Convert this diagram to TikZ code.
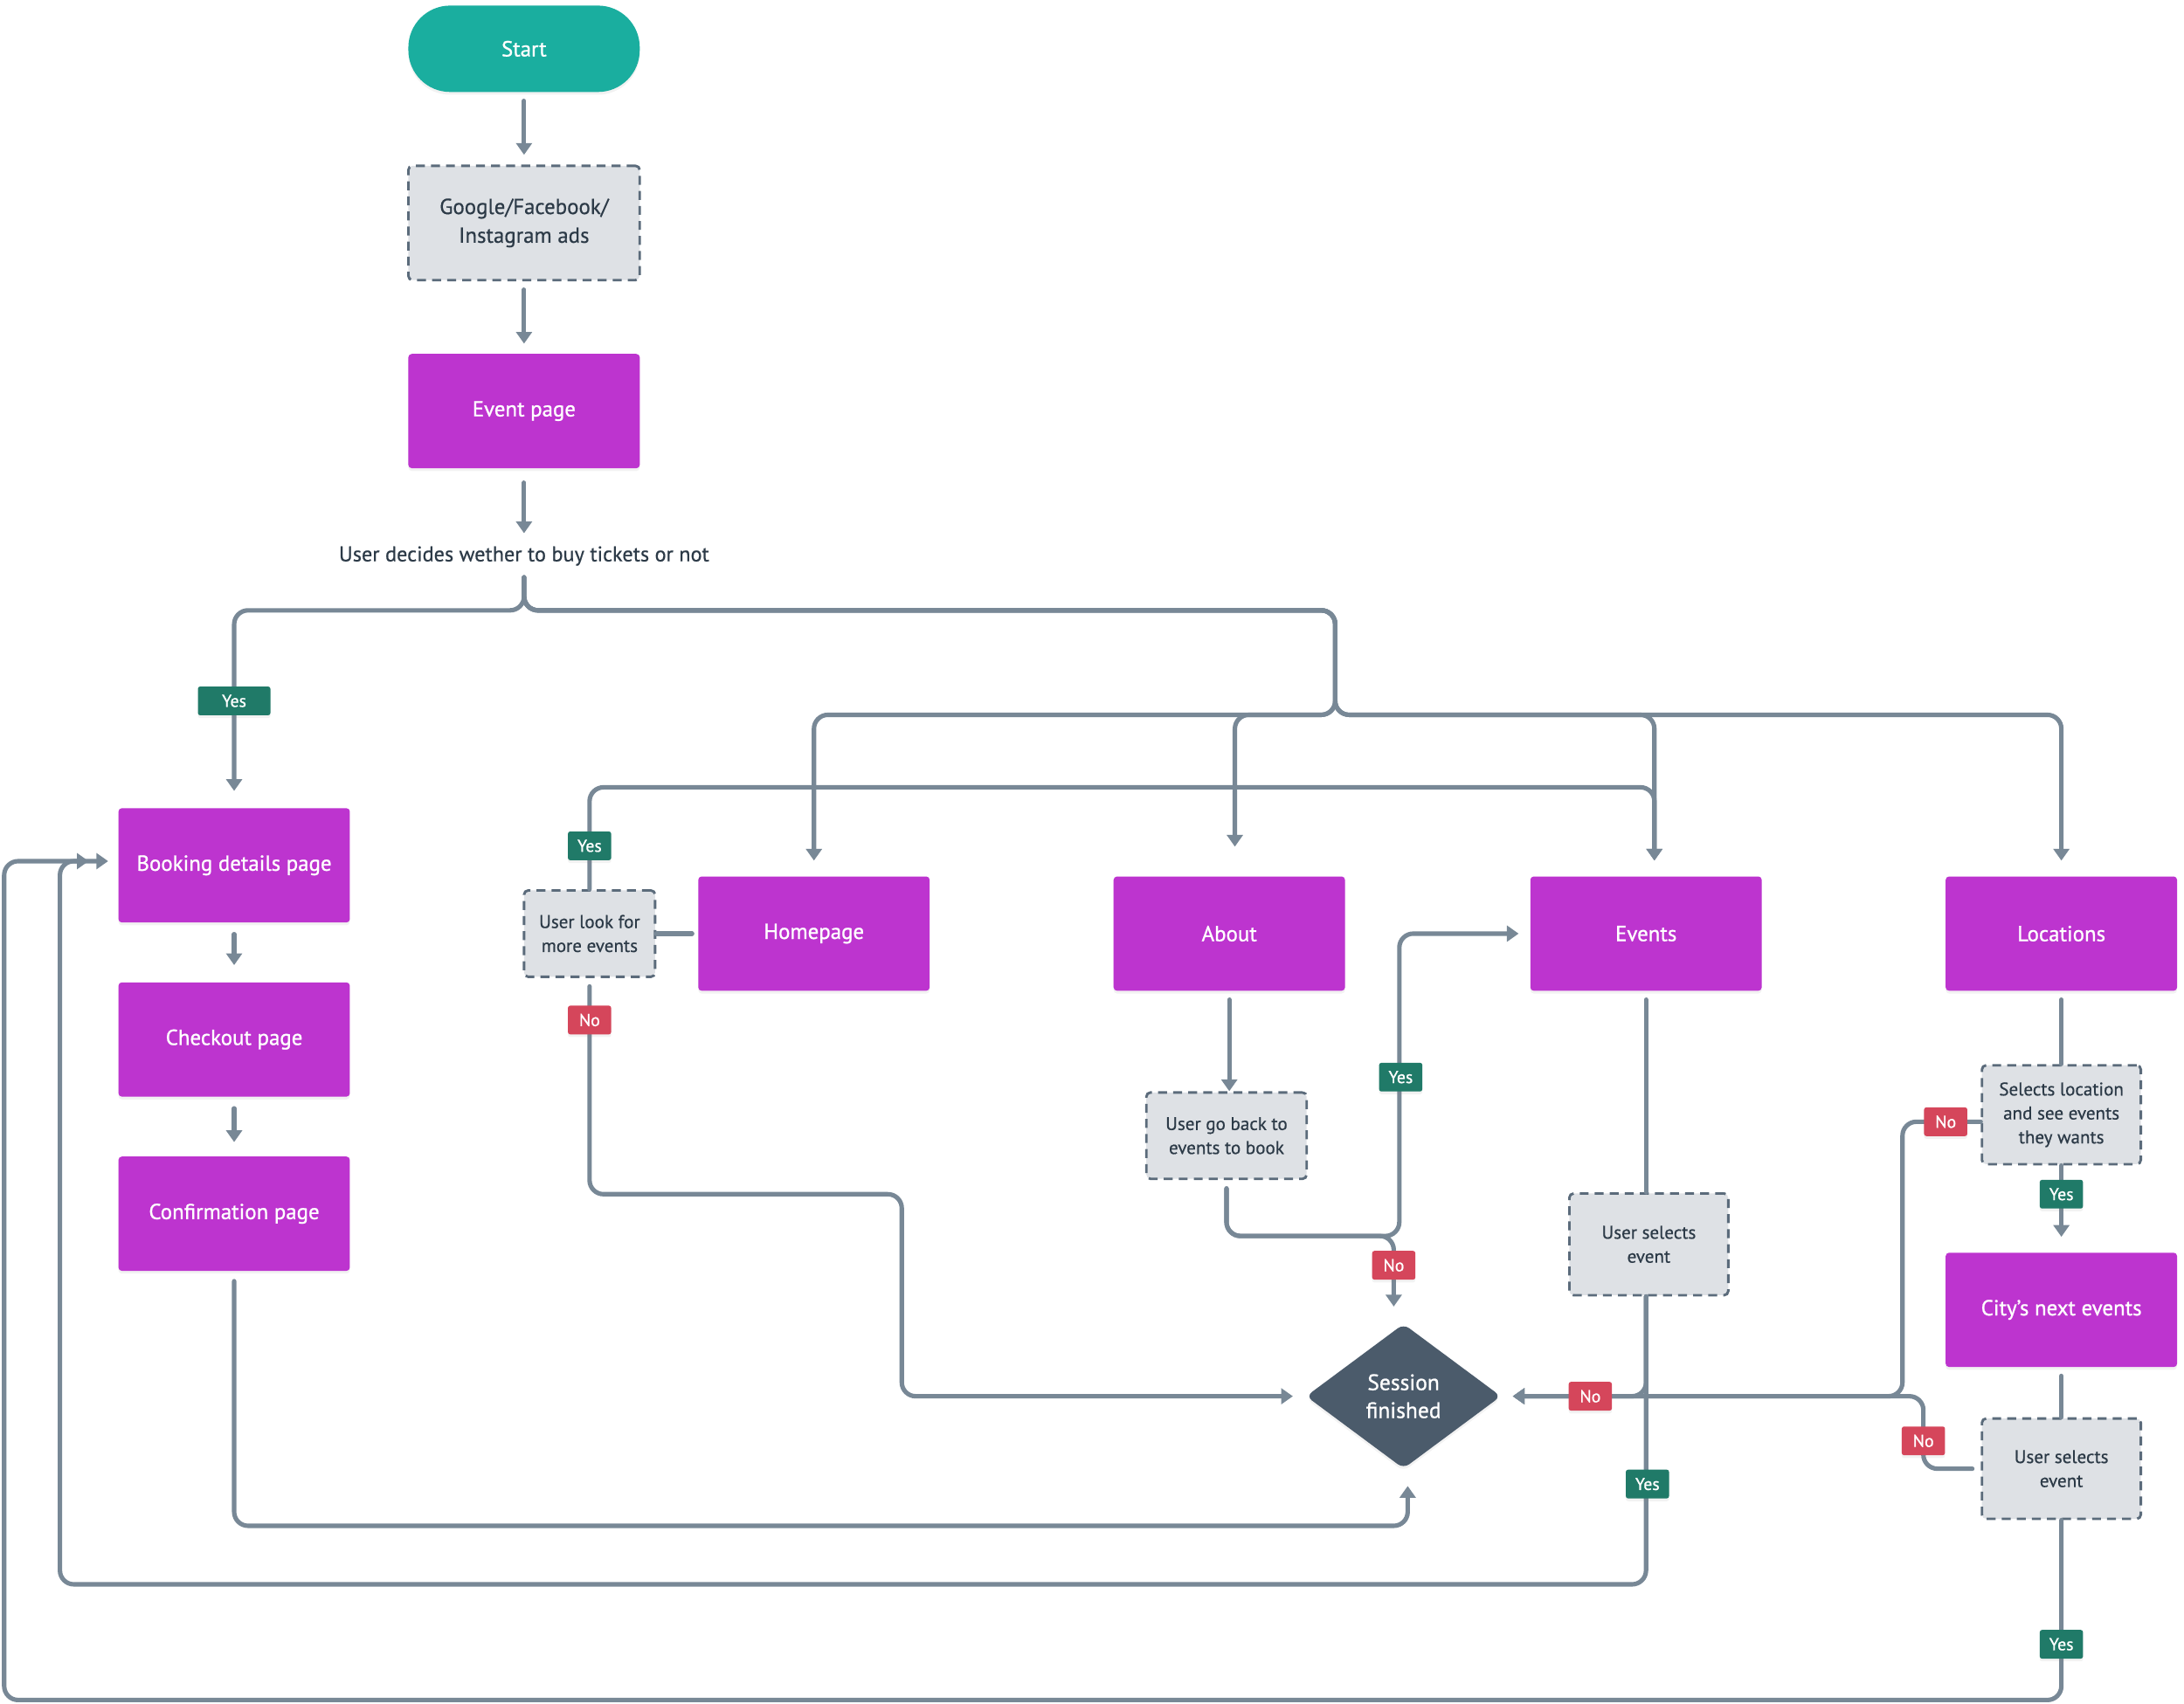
\documentclass[tikz,border=0pt]{standalone}
\usepackage{fontspec}
\setmainfont{PT Sans}
\newfontfamily\medfont{PT Sans}[FakeBold=0.9]
\newfontfamily\semfont{PT Sans}[FakeBold=0.5]
\usetikzlibrary{arrows.meta,shapes.geometric,shadows,calc}
\definecolor{tealc}{HTML}{1AAE9F}
\definecolor{purp}{HTML}{BD34CF}
\definecolor{greyf}{HTML}{DEE1E5}
\definecolor{dashc}{HTML}{5B6B7B}
\definecolor{linec}{HTML}{788896}
\definecolor{diac}{HTML}{4B5B6B}
\definecolor{yesc}{HTML}{207A68}
\definecolor{noc}{HTML}{D5465B}
\definecolor{darkt}{HTML}{2C3A47}
\newcommand{\fpage}{\medfont\fontsize{7.8}{10.3}\selectfont}
\newcommand{\fads}{\semfont\fontsize{7.8}{10.3}\selectfont}
\newcommand{\fsmall}{\semfont\fontsize{6.6}{8.6}\selectfont}
\newcommand{\flbl}{\medfont\fontsize{6.2}{7}\selectfont}
\newcommand{\fdec}{\semfont\fontsize{7.6}{9}\selectfont}
\newcommand{\fses}{\medfont\fontsize{8}{10}\selectfont}
\begin{document}
\begin{tikzpicture}[x=0.5pt,y=-0.5pt,
  conn/.style={draw=linec, line width=1.6pt, rounded corners=5pt, line cap=round},
  arr/.style={conn, -{Triangle[width=5.6pt,length=4.2pt]}},
  shad/.style={drop shadow={opacity=0.10, shadow xshift=0pt, shadow yshift=-1pt}},
  page/.style={rectangle, fill=purp, text=white, font=\fpage, minimum width=83pt, minimum height=41pt, rounded corners=1.2pt, inner sep=2pt, shad},
  dbox/.style={rectangle, fill=greyf, draw=dashc, line width=0.9pt, dash pattern=on 3.2pt off 2.2pt, text=darkt, font=\fsmall, align=center, rounded corners=1.5pt, inner sep=1pt},
  lbl/.style={rectangle, text=white, font=\flbl, minimum width=15.5pt, minimum height=10.3pt, inner sep=0pt, rounded corners=0.8pt, shad},
  yeslbl/.style={lbl, fill=yesc},
  nolbl/.style={lbl, fill=noc}
]
\useasboundingbox (0,0) rectangle (1567,1222.3);

% ---------- nodes ----------
\node[rectangle, fill=tealc, text=white, font=\fpage, minimum width=83pt, minimum height=31pt, rounded corners=15pt, shad] (start) at (376,35) {Start};
\node[dbox, font=\fads, minimum width=83pt, minimum height=41pt] (ads) at (376,160) {Google/Facebook/\\Instagram ads};
\node[page] (event) at (376,295) {Event page};
\node[text=darkt, font=\fdec, inner sep=0pt] (decide) at (376,399) {User decides wether to buy tickets or not};

\node[page] (booking) at (168,621) {Booking details page};
\node[page] (checkout) at (168,746) {Checkout page};
\node[page] (confirm) at (168,871) {Confirmation page};

\node[dbox, minimum width=47pt, minimum height=31pt] (lookmore) at (423,670) {User look for\\more events};
\node[page] (home) at (584,670) {Homepage};
\node[page] (about) at (882,670) {About};
\node[page] (events) at (1181,670) {Events};
\node[page] (locations) at (1479,670) {Locations};

\node[dbox, minimum width=57.5pt, minimum height=31pt] (goback) at (880,815) {User go back to\\events to book};
\node[dbox, minimum width=57pt, minimum height=36.5pt] (selev) at (1183,893) {User selects\\event};
\node[dbox, minimum width=57pt, minimum height=35.5pt] (selloc) at (1479,800) {Selects location\\and see events\\they wants};
\node[page] (city) at (1479,940) {City’s next events};
\node[dbox, minimum width=57pt, minimum height=36pt] (selev2) at (1479,1054) {User selects\\event};

\node[diamond, fill=diac, text=white, font=\fses, align=center, minimum width=70pt, minimum height=52pt, inner sep=0pt, rounded corners=2.5pt, shad] (session) at (1007,1002) {Session\\finished};

% ---------- connectors ----------
\draw[arr, shorten <=3pt, shorten >=3.5pt] (start) -- (ads);
\draw[arr, shorten <=3pt, shorten >=3.5pt] (ads) -- (event);
\draw[arr] ([yshift=-5pt]event.south) -- ([yshift=4.5pt]decide.north);

\coordinate (dtop) at ([yshift=-4pt]decide.south);
\coordinate (b1) at (958,438);
\coordinate (b2) at (958,513);
\coordinate (b3) at (1187,565);

\draw[arr] (dtop) -- (dtop |- b1) -| ([yshift=6pt]booking.north);
\draw[arr] (dtop) -- (dtop |- b1) -- (b1) -- (b2) -| ([yshift=5.5pt]home.north);
\draw[arr] (dtop) -- (dtop |- b1) -- (b1) -- (b2) -| ([xshift=2pt,yshift=10.5pt]about.north);
\draw[arr] (dtop) -- (dtop |- b1) -- (b1) -- (b2) -| ([xshift=3pt,yshift=5.5pt]events.north);
\draw[arr] (dtop) -- (dtop |- b1) -- (b1) -- (b2) -| ([yshift=5.5pt]locations.north);

\draw[arr] (lookmore.north) |- (b3) -- ([xshift=3pt,yshift=5.5pt]events.north);
\draw[conn, shorten >=2pt] (lookmore.east) -- (home.west);
\draw[arr] ([yshift=-3pt]lookmore.south) -- (423,857) -- (647,857) -- (647,1002) -- ([xshift=-4.5pt]session.west);

\draw[arr, shorten <=4pt, shorten >=6pt] (booking) -- (checkout);
\draw[arr, shorten <=4pt, shorten >=5pt] (checkout) -- (confirm);
\draw[arr] ([yshift=-3.5pt]confirm.south) -- (168,1095) -| ([xshift=1.5pt,yshift=-6pt]session.south);

\draw[arr] ([yshift=-3pt]about.south) -- (about.south |- goback.north);
\draw[arr] ([yshift=-3pt]goback.south) -- (880,887) -- (1004,887) -- (1004,670) -- ([xshift=-4pt]events.west);
\draw[arr] ([yshift=-3pt]goback.south) -- (880,887) -- (1000,887) -- ([xshift=-3.5pt,yshift=6pt]session.north);

\draw[conn] ([yshift=-3pt]events.south) -- (events.south |- selev.north);
\draw[arr] (events.south |- selev.south) -- (1181,1002) -- ([xshift=4pt]session.east);
\draw[arr] (events.south |- selev.south) -- (1181,1137) -- (43,1137) -- (43,618) -- ([xshift=-3.5pt,yshift=1.5pt]booking.west);

\draw[conn] ([yshift=-3pt]locations.south) -- (selloc.north);
\draw[arr] ([yshift=-2.5pt]selloc.west) -- (1365,805) -- (1365,1002) -- ([xshift=4pt]session.east);
\draw[arr] (selloc.south) -- ([yshift=5.5pt]city.north);
\draw[conn] ([yshift=-3pt]city.south) -- (selev2.north);
\draw[arr] ([xshift=-3pt]selev2.west) -- (1380,1054) -- (1380,1002) -- ([xshift=4pt]session.east);
\draw[arr] (selev2.south) -- (1479,1220) -- (3,1220) -- (3,618) -- ([xshift=-10.5pt,yshift=1.5pt]booking.west);

% ---------- labels ----------
\node[yeslbl, minimum width=26pt] (y1) at (168,503) {Yes};
\node[yeslbl] (y2) at (423,607) {Yes};
\node[nolbl] (n1) at (423,732) {No};
\node[yeslbl] (y3) at (1005,773) {Yes};
\node[nolbl] (n2) at (1000,908) {No};
\node[nolbl] (n3) at (1141,1002) {No};
\node[yeslbl] (y4) at (1182,1065) {Yes};
\node[nolbl] (n4) at (1396,805) {No};
\node[yeslbl] (y5) at (1479,857) {Yes};
\node[nolbl] (n5) at (1380,1034) {No};
\node[yeslbl] (y6) at (1479,1180) {Yes};
\end{tikzpicture}
\end{document}
